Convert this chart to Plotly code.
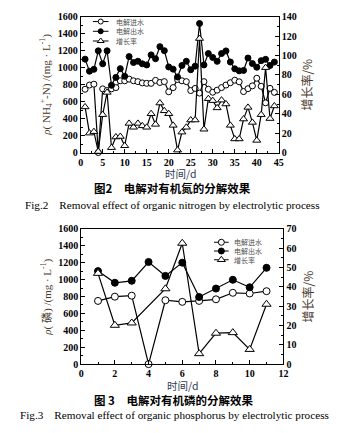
import plotly.graph_objects as go

# ---------------- data: Fig.2 (organic nitrogen) ----------------
days_n = list(range(1, 45))
n_influent = [745, 795, 805, 0, 750, 730, 750, 765, 845, 845,
              865, 845, 835, 820, 815, 815, 850, 825, 835, 715,
              765, 860, 845, 835, 730, 755, 700, 835, 745, 710,
              735, 765, 795, 822, 852, 833, 718, 752, 785, 875,
              780, 585, 756, 708]
n_effluent = [1100, 958, 980, 1198, 1045, 1198, 792, 885, 988, 898,
              1130, 1060, 1075, 1045, 1032, 1150, 1105, 1247, 1200, 1008,
              982, 890, 1025, 1075, 975, 1017, 1520, 1032, 1166, 1120,
              1074, 1166, 1197, 1066, 986, 962, 967, 1113, 1048, 1005,
              1082, 1098, 1025, 1065]
n_growth = [47, 20, 21.5, 1, 39, 62, 5, 16, 16.5, 7,
            30, 26, 30, 27.5, 26, 40, 29, 51, 43, 40,
            28, 2.5, 21, 26, 33.5, 33.5, 117.5, 24, 55.5, 53.5,
            46, 54, 50, 28, 14, 14, 34.5, 46.5, 31, 12.5,
            39, 87.5, 35, 48]

# ---------------- data: Fig.3 (organic phosphorus) ----------------
days_p = list(range(1, 12))
p_influent = [748, 798, 810, 0, 756, 737, 748, 767, 844, 836, 863]
p_effluent = [1101, 963, 986, 1209, 1044, 1201, 794, 894, 998, 909, 1140]
p_growth = [47, 20.1, 21.3, None, 39, 62.6, 5.4, 16, 16.3, 7.6, 31]

series_names = ["电解进水", "电解出水", "增长率"]

W, H = 347, 433


def px(x):
    return x / W


def py(y):
    return 1 - y / H


LINE = dict(color="black", width=1.2)
SER = "Liberation Serif, Noto Sans CJK SC"
CJK = "Noto Sans CJK SC"
TITLE_COLOR = "#4a3a2c"


def styles(size):
    return [
        dict(symbol="circle", color="white", size=size, line=dict(color="black", width=1)),
        dict(symbol="circle", color="black", size=size, line=dict(color="black", width=1)),
        dict(symbol="triangle-up", color="white", size=size + 1, line=dict(color="black", width=1)),
    ]


fig = go.Figure()

s1 = styles(6)
for yv, st, ya in [(n_influent, s1[0], "y"), (n_effluent, s1[1], "y"), (n_growth, s1[2], "y2")]:
    fig.add_trace(go.Scatter(x=days_n, y=yv, xaxis="x", yaxis=ya, mode="lines+markers",
                             line=LINE, marker=st, showlegend=False, cliponaxis=False,
                             connectgaps=True))

s2 = styles(7)
for yv, st, ya in [(p_influent, s2[0], "y3"), (p_effluent, s2[1], "y3"), (p_growth, s2[2], "y4")]:
    fig.add_trace(go.Scatter(x=days_p, y=yv, xaxis="x2", yaxis=ya, mode="lines+markers",
                             line=LINE, marker=st, showlegend=False, cliponaxis=False,
                             connectgaps=True))

# ---------------- legends (drawn in a pixel overlay) ----------------
annotations = []


def legend(x0, x1, rows, size, tx):
    st = styles(size)
    for i, (name, yy) in enumerate(zip(series_names, rows)):
        fig.add_trace(go.Scatter(x=[x0, x1], y=[yy, yy], xaxis="x3", yaxis="y5",
                                 mode="lines", line=dict(color="black", width=1),
                                 showlegend=False, hoverinfo="skip"))
        fig.add_trace(go.Scatter(x=[(x0 + x1) / 2], y=[yy], xaxis="x3", yaxis="y5",
                                 mode="markers", marker=st[i],
                                 showlegend=False, hoverinfo="skip"))
        annotations.append(dict(x=px(tx), y=py(yy), xref="paper", yref="paper",
                                text=name, showarrow=False, xanchor="left", yanchor="middle",
                                borderpad=0,
                                font=dict(family=CJK, size=7, color="#555555")))


legend(92, 108, [16, 26, 36], 5, 115)
legend(216, 231, [243, 252, 261], 6, 235)

tickfont = dict(family="Liberation Serif", size=10, color="black", weight="bold")


def xax(dom, rng, dtick, mdtick, anchor):
    return dict(domain=dom, range=rng, dtick=dtick, tick0=0, anchor=anchor,
                showline=True, linecolor="black", linewidth=1, mirror=True,
                ticks="inside", ticklen=4, tickcolor="black", tickfont=tickfont,
                showgrid=False, zeroline=False,
                minor=dict(ticks="inside", ticklen=2, tickcolor="black", dtick=mdtick, tick0=0))


def yax(dom, rng, dtick, mdtick, anchor, side="left", overlay=None):
    d = dict(range=rng, dtick=dtick, tick0=0, anchor=anchor, side=side,
             showline=True, linecolor="black", linewidth=1,
             ticks="inside", ticklen=4, tickcolor="black", tickfont=tickfont,
             showgrid=False, zeroline=False,
             minor=dict(ticks="inside", ticklen=2, tickcolor="black", dtick=mdtick, tick0=0))
    if overlay:
        d["overlaying"] = overlay
    else:
        d["domain"] = dom
    return d


dom1x = [px(79.5), px(282.3)]
dom1y = [py(150.7), py(11)]
dom2x = [px(80), px(287)]
dom2y = [py(368.3), py(229.3)]

fig.update_layout(
    width=W, height=H, margin=dict(l=0, r=0, t=0, b=0),
    paper_bgcolor="white", plot_bgcolor="rgba(0,0,0,0)", showlegend=False,
    xaxis=xax(dom1x, [0, 45], 5, 2.5, "y"),
    yaxis=yax(dom1y, [0, 1600], 200, 100, "x"),
    yaxis2=yax(None, [0, 140], 20, 10, "x", side="right", overlay="y"),
    xaxis2=xax(dom2x, [0, 12], 2, 1, "y3"),
    yaxis3=yax(dom2y, [0, 1600], 200, 100, "x2"),
    yaxis4=yax(None, [0, 70], 10, 5, "x2", side="right", overlay="y3"),
    xaxis3=dict(domain=[0, 1], range=[0, W], visible=False, anchor="y5"),
    yaxis5=dict(domain=[0, 1], range=[H, 0], visible=False, anchor="x3"),
)


def ann(x, y, text, size, family, color="black", angle=0):
    annotations.append(dict(x=px(x), y=py(y), xref="paper", yref="paper", text=text,
                            showarrow=False, xanchor="center", yanchor="middle",
                            textangle=angle, borderpad=0,
                            font=dict(family=family, size=size, color=color)))


ann(44, 81, "<i>ρ</i>( NH<sub>4</sub><sup>+</sup>-N) /(mg · L<sup>-1</sup>)", 11, SER, TITLE_COLOR, -90)
ann(311, 81, "增长率/%", 12, CJK, TITLE_COLOR, -90)
ann(182, 172, "时间/d", 10.5, CJK, "#2f3b55")
ann(174, 187.5, "<b>图2　电解对有机氮的分解效果</b>", 11.5, CJK, "black")
ann(173, 205, "Fig.2　Removal effect of organic nitrogen by electrolytic process", 11.2, "Liberation Serif")

ann(45, 299, "<i>ρ</i>( 磷) /(mg · L<sup>-1</sup>)", 11, SER, TITLE_COLOR, -90)
ann(312, 299, "增长率/%", 12, CJK, TITLE_COLOR, -90)
ann(184, 390.5, "时间/d", 10.5, CJK, "#2f3b55")
ann(175, 405.5, "<b>图 3　电解对有机磷的分解效果</b>", 11.5, CJK, "black")
ann(176, 421, "Fig.3　Removal effect of organic phosphorus by electrolytic process", 11.2, "Liberation Serif")

fig.update_layout(annotations=annotations)
fig.write_html("out.html")
